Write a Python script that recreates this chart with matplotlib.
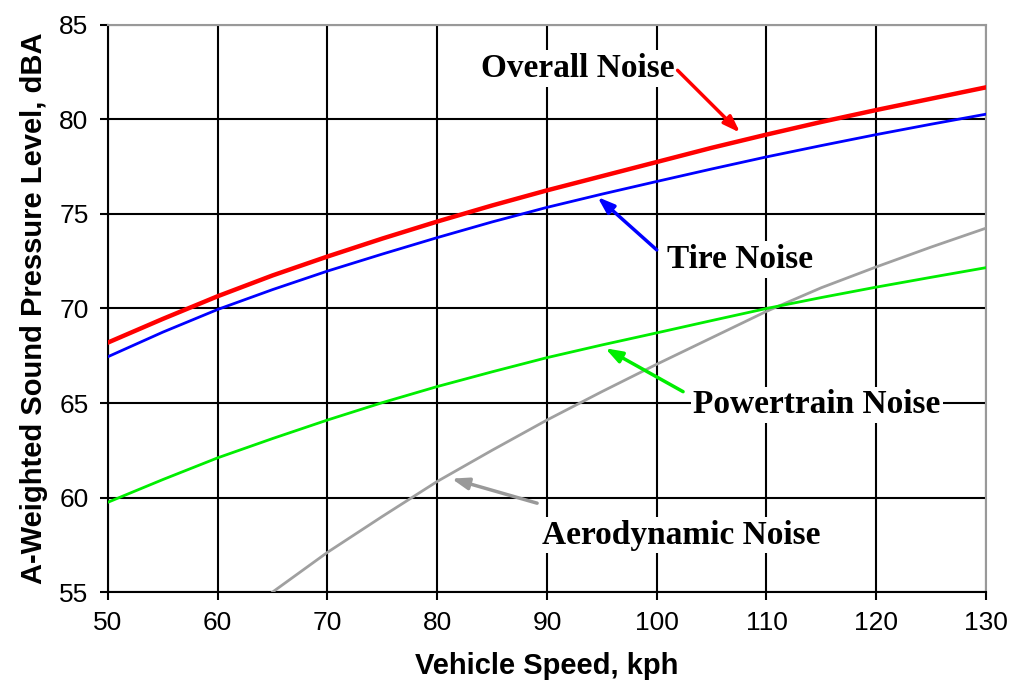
import matplotlib.pyplot as plt

speed = [50, 55, 60, 65, 70, 75, 80, 85, 90, 95, 100, 105, 110, 115, 120, 125, 130]
overall = [68.2, 69.45, 70.65, 71.75, 72.75, 73.7, 74.6, 75.45, 76.25, 77.0, 77.75,
           78.5, 79.2, 79.87, 80.5, 81.1, 81.7]
tire = [67.45, 68.75, 69.95, 71.0, 71.98, 72.88, 73.75, 74.58, 75.35, 76.05, 76.72,
        77.38, 78.02, 78.62, 79.2, 79.75, 80.28]
powertrain = [59.75, 60.95, 62.1, 63.12, 64.1, 65.02, 65.87, 66.65, 67.4, 68.07, 68.71,
              69.36, 70.0, 70.58, 71.13, 71.65, 72.16]

aero_speed = [65, 70, 75, 80, 85, 90, 95, 100, 105, 110, 115, 120, 125, 130]
aero = [55.0, 57.1, 59.0, 60.85, 62.5, 64.1, 65.6, 67.05, 68.45, 69.85, 71.1,
        72.2, 73.25, 74.25]

# label text, text position, arrow tail, arrow head, colour
labels = [
    ("Overall Noise", (92.8, 82.7), (101.9, 82.6), (107.6, 79.3), "#ff0000"),
    ("Tire Noise", (107.6, 72.6), (100.0, 73.1), (94.6, 75.9), "#0000ff"),
    ("Powertrain Noise", (114.6, 64.9), (102.4, 65.6), (95.3, 67.9), "#00ee00"),
    ("Aerodynamic Noise", (102.2, 58.0), (89.1, 59.7), (81.3, 61.0), "#999999"),
]

fig = plt.figure(figsize=(10.12, 6.86), dpi=100)
ax = fig.add_axes([0.1067, 0.137, 0.8676, 0.8266])

ax.plot(aero_speed, aero, color="#a0a0a0", lw=2, zorder=3)
ax.plot(speed, powertrain, color="#00ee00", lw=2, zorder=3)
ax.plot(speed, tire, color="#0000ff", lw=2, zorder=3)
ax.plot(speed, overall, color="#ff0000", lw=3.2, zorder=4)

for text, pos, tail, head, col in labels:
    ax.annotate("", xy=head, xytext=tail,
                arrowprops=dict(arrowstyle="-|>,head_length=1.0,head_width=0.35",
                                color=col, lw=2.5, shrinkA=0, shrinkB=0),
                zorder=5)
    ax.text(pos[0], pos[1], text, ha="center", va="center",
            family="Liberation Serif", fontweight="bold", fontsize=24,
            bbox=dict(facecolor="white", edgecolor="none", pad=2), zorder=2.5)

ax.set_xlim(50, 130)
ax.set_ylim(55, 85)
ax.set_xticks(range(50, 131, 10))
ax.set_yticks(range(55, 86, 5))
ax.grid(True, color="black", lw=1.5, zorder=1)
ax.set_axisbelow(True)
ax.tick_params(direction="out", length=6, width=1.5, labelsize=19, pad=8)
for lbl in ax.get_xticklabels() + ax.get_yticklabels():
    lbl.set_family("Liberation Sans")

for side in ["left", "bottom"]:
    ax.spines[side].set_color("black")
    ax.spines[side].set_linewidth(1.5)
for side in ["top", "right"]:
    ax.spines[side].set_color("#999999")
    ax.spines[side].set_linewidth(1.5)

ax.set_xlabel("Vehicle Speed, kph", family="Liberation Sans", fontweight="bold",
              fontsize=21, labelpad=12)
ax.set_ylabel("A-Weighted Sound Pressure Level, dBA", family="Liberation Sans",
              fontweight="bold", fontsize=21, labelpad=8)

fig.savefig("out.png", dpi=100)
